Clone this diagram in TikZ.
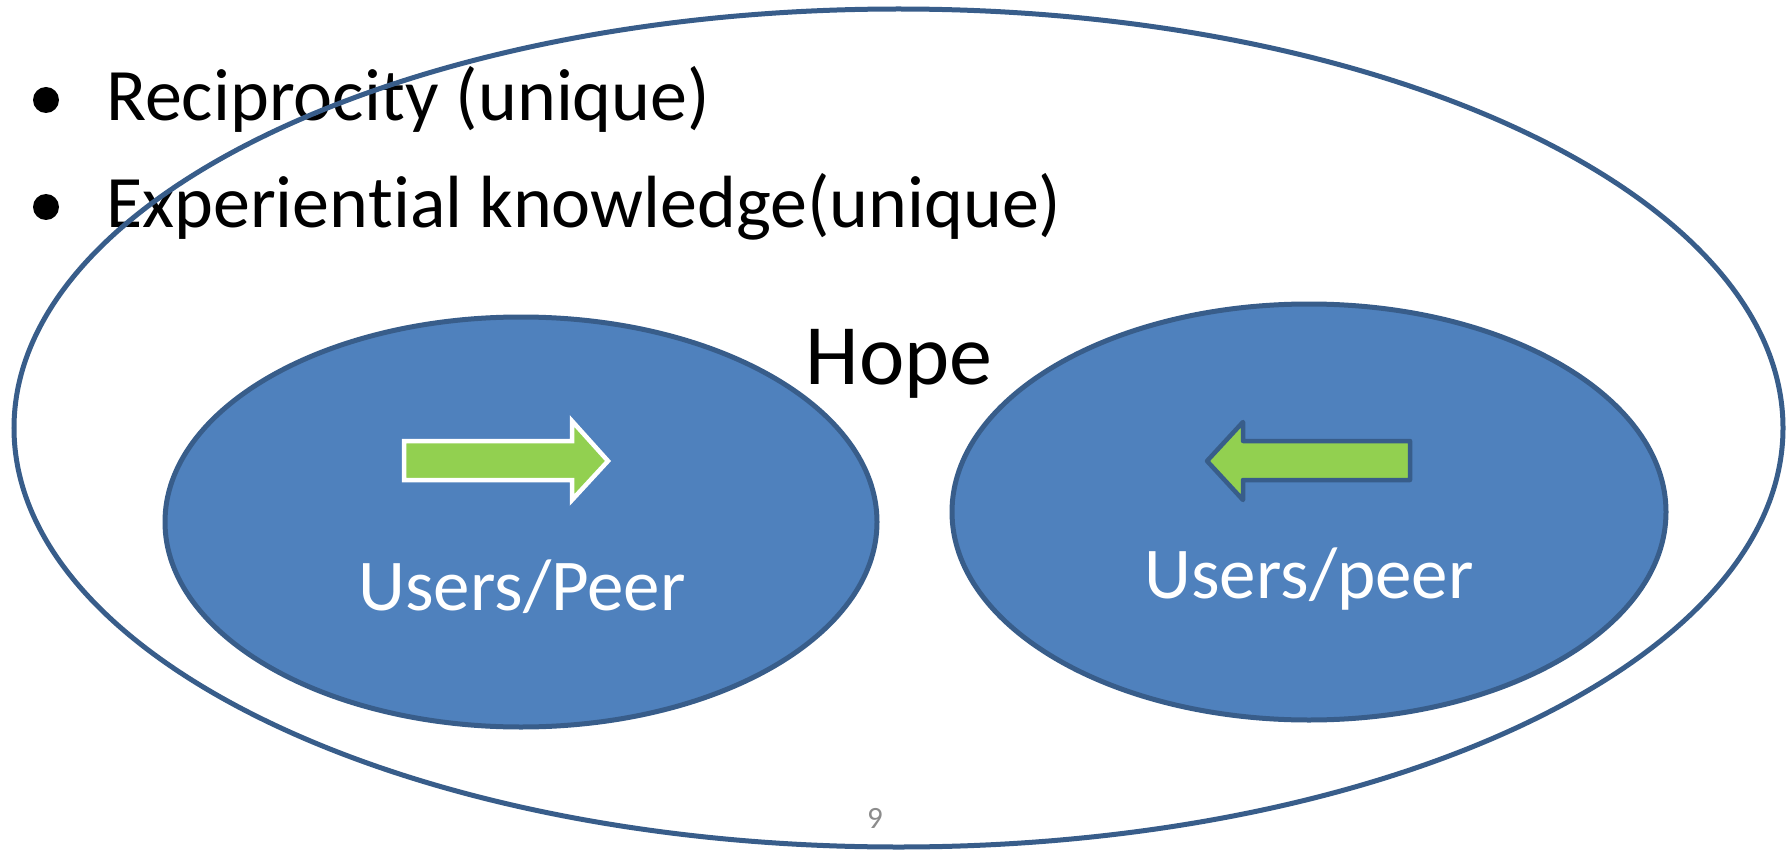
\documentclass[tikz,border=0pt]{standalone}
\usepackage{fontspec}
\setmainfont{Carlito}[Ligatures={NoCommon}, RawFeature={-liga;-clig;-dlig}]
\usetikzlibrary{shapes.geometric}
\definecolor{fillblue}{HTML}{4F81BD}
\definecolor{edgeblue}{HTML}{385D8A}
\definecolor{arrowgreen}{HTML}{92D050}
\definecolor{pagegray}{HTML}{8C8C8C}
\begin{document}
\begin{tikzpicture}[x=1pt,y=-1pt,
  bullettext/.style={anchor=base west, inner sep=0pt, font=\fontsize{74}{88}\selectfont},
  innerell/.style={ellipse, draw=edgeblue, fill=fillblue, line width=5pt, inner sep=0pt},
  peerlabel/.style={anchor=base, inner sep=0pt, text=white, font=\fontsize{73}{88}\selectfont}]
\fill[white] (0,0) rectangle (1787,850);
\useasboundingbox (0,0) rectangle (1787,850);
% bullets and text
\fill (46,100) circle (13);
\fill (46,207) circle (13);
\node[bullettext] (recip) at (106,121) {Reciprocity (unique)};
\node[bullettext] (exper) at (106,228) {Experien\kern0pt t\kern0pt ial knowledge(unique)};
% outer ellipse
\node[ellipse, draw=edgeblue, line width=5pt, inner sep=0pt, minimum width=1769pt, minimum height=838pt] (outer) at (898.5,428) {};
% inner ellipses
\node[innerell, minimum width=712pt, minimum height=410pt] (leftell) at (521,522) {};
\node[innerell, minimum width=714pt, minimum height=416pt] (rightell) at (1309,512) {};
% labels
\node[anchor=base, inner sep=0pt, font=\fontsize{86}{100}\selectfont] (hope) at (899,384) {Hope};
\node[peerlabel] (lpeer) at (522,610) {Users/Peer};
\node[peerlabel] (rpeer) at (1309,598) {Users/peer};
\node[inner sep=0pt, text=pagegray, font=\fontsize{31}{36}\selectfont] (pnum) at (875,818) {9};
% arrows
\draw[white, fill=arrowgreen, line width=4.5pt, line join=miter]
  (404,441) -- (572,441) -- (572,421) -- (608,461) -- (572,500) -- (572,480) -- (404,480) -- cycle;
\draw[edgeblue, fill=arrowgreen, line width=4.5pt, line join=round]
  (1410,441) -- (1243,441) -- (1243,422) -- (1207,461) -- (1243,500) -- (1243,480) -- (1410,480) -- cycle;
\end{tikzpicture}
\end{document}
